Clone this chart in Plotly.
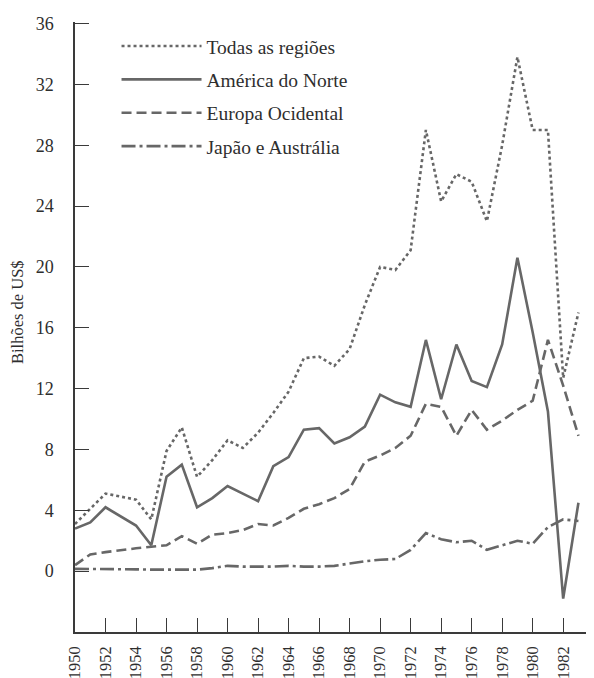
import plotly.graph_objects as go

years = list(range(1950, 1984))

todas = [3.1, 4.1, 5.1, 4.9, 4.7, 3.4, 7.9, 9.45, 6.2, 7.3,
         8.6, 8.1, 9.1, 10.4, 11.8, 14.0, 14.1, 13.5, 14.6, 17.5,
         20.0, 19.8, 21.1, 29.0, 24.3, 26.1, 25.6, 23.0, 28.0, 33.8,
         29.0, 29.0, 12.7, 17.0]

america = [2.8, 3.2, 4.2, 3.6, 3.0, 1.7, 6.2, 7.0, 4.2, 4.8,
           5.6, 5.1, 4.6, 6.9, 7.5, 9.3, 9.4, 8.4, 8.8, 9.5,
           11.6, 11.1, 10.8, 15.2, 11.3, 14.9, 12.5, 12.1, 14.9, 20.6,
           15.7, 10.5, -1.8, 4.5]

europa = [0.4, 1.1, 1.25, 1.4, 1.5, 1.6, 1.7, 2.3, 1.8, 2.4,
          2.5, 2.7, 3.1, 3.0, 3.5, 4.1, 4.4, 4.8, 5.4, 7.2,
          7.6, 8.1, 8.9, 11.0, 10.8, 8.9, 10.6, 9.3, 9.9, 10.6,
          11.2, 15.2, 12.2, 8.9]

japao = [0.15, 0.15, 0.15, 0.15, 0.12, 0.1, 0.1, 0.1, 0.1, 0.2,
         0.35, 0.3, 0.3, 0.3, 0.35, 0.3, 0.3, 0.35, 0.5, 0.65,
         0.75, 0.8, 1.4, 2.5, 2.1, 1.9, 2.0, 1.4, 1.7, 2.0,
         1.8, 2.9, 3.4, 3.3]

x_ticks = list(range(1950, 1985, 2))
y_ticks = list(range(0, 37, 4))

FONT = "Liberation Serif, 'Times New Roman', serif"
LINE = "#676767"
AXIS = "#3a3a3a"
TEXT = "#2e2e2e"

series = [
    ("Todas as regiões", todas, "dot"),
    ("América do Norte", america, "solid"),
    ("Europa Ocidental", europa, "10px,5px"),
    ("Japão e Austrália", japao, "14px,4px,3px,4px"),
]

fig = go.Figure()
for i, (name, vals, dash) in enumerate(series):
    fig.add_trace(go.Scatter(
        x=years, y=vals, name=name, mode="lines", legendgroup=str(i),
        line=dict(color=LINE, width=2.6, dash=dash),
    ))

# the page body adds an 8px margin, so the figure is 8px smaller on each side
fig.update_layout(
    width=586, height=670,
    margin=dict(l=67, r=0, t=14, b=46),
    paper_bgcolor="white", plot_bgcolor="white",
    font=dict(family=FONT, size=16, color=TEXT),
    showlegend=True,
    legend=dict(
        x=0.08, y=0.992, xanchor="left", yanchor="top",
        bgcolor="rgba(0,0,0,0)", itemwidth=80, tracegroupgap=5,
        font=dict(family=FONT, size=19.5, color=TEXT),
    ),
    annotations=[dict(
        text="Bilhões de US$", xref="paper", yref="paper",
        x=-0.1098, y=0.5246, xanchor="center", yanchor="middle",
        textangle=-90, showarrow=False,
        font=dict(family=FONT, size=16.5, color=TEXT),
    )],
)

fig.update_xaxes(
    range=[1950, 1984.02], tickvals=x_ticks, ticktext=[str(v) for v in x_ticks],
    tickangle=-90, ticks="inside", ticklen=14, tickwidth=1.3, tickcolor=AXIS,
    showline=True, linecolor=AXIS, linewidth=1.5, showgrid=False, zeroline=False,
    automargin=False, ticklabelstandoff=6, ticklabeloverflow="allow",
    tickfont=dict(family=FONT, size=16.5, color=TEXT),
)
fig.update_yaxes(
    range=[-4.0, 36.1], tickvals=y_ticks, ticks="inside", ticklen=14,
    tickwidth=1.3, tickcolor=AXIS,
    showline=True, linecolor=AXIS, linewidth=1.5, showgrid=False, zeroline=False,
    automargin=False, ticklabelstandoff=16,
    tickfont=dict(family=FONT, size=18, color=TEXT),
)

fig.write_html("out.html")
